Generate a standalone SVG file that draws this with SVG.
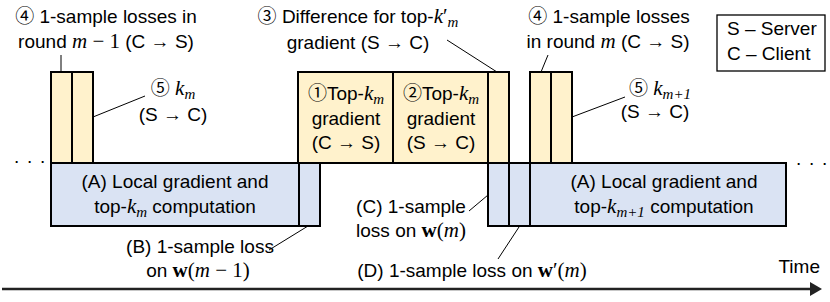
<svg xmlns="http://www.w3.org/2000/svg" width="830" height="302" viewBox="0 0 830 302">
<defs>
<style>
.t{font-family:"Liberation Sans","Noto Sans CJK JP",sans-serif;font-size:19px;fill:#000}
.c{text-anchor:middle}
.n{font-family:"Noto Sans CJK JP","DejaVu Sans",sans-serif;font-size:19px}
.m{font-family:"Liberation Serif",serif;font-style:italic;font-size:21px}
.r{font-family:"Liberation Serif",serif;font-style:normal;font-size:21px}
.s{font-size:15px}
.bw{font-family:"Liberation Serif",serif;font-weight:bold;font-style:normal;font-size:21px}
.or{fill:#FFF2CC;stroke:#000;stroke-width:2}
.bl{fill:#DAE3F3;stroke:#000;stroke-width:2}
.ld{stroke:#000;stroke-width:1;fill:none}
</style>
<marker id="ah" markerWidth="12" markerHeight="14" refX="0" refY="7" orient="auto" markerUnits="userSpaceOnUse">
<path d="M0,0 L12,7 L0,14 Z" fill="#222"/>
</marker>
</defs>
<rect width="830" height="302" fill="#fff"/>

<!-- nodes -->
<g id="loss-left">
<rect class="or" x="51" y="72" width="21" height="91"/>
<rect class="or" x="72" y="72" width="21" height="91"/>
</g>
<g id="compute-left">
<rect class="bl" x="51" y="163" width="248" height="63"/>
<text class="t c" x="175" y="188">(A) Local gradient and</text>
<text class="t c" x="175" y="213">top-<tspan class="m">k</tspan><tspan class="m s" dy="4">m</tspan><tspan dy="-4"> computation</tspan></text>
</g>
<g id="loss-B">
<rect class="bl" x="299" y="163" width="21" height="63"/>
</g>
<g id="topk-up">
<rect class="or" x="298" y="72" width="95" height="91"/>
<text class="t c" x="346" y="100"><tspan class="n">①</tspan>Top-<tspan class="m">k</tspan><tspan class="m s" dy="4">m</tspan></text>
<text class="t c" x="346" y="124.5">gradient</text>
<text class="t c" x="346" y="149">(C → S)</text>
</g>
<g id="topk-down">
<rect class="or" x="393" y="72" width="95" height="91"/>
<text class="t c" x="441" y="100"><tspan class="n">②</tspan>Top-<tspan class="m">k</tspan><tspan class="m s" dy="4">m</tspan></text>
<text class="t c" x="441" y="124.5">gradient</text>
<text class="t c" x="441" y="149">(S → C)</text>
</g>
<g id="diff">
<rect class="or" x="488" y="72" width="21" height="91"/>
</g>
<g id="loss-C">
<rect class="bl" x="488" y="163" width="21" height="63"/>
</g>
<g id="loss-D">
<rect class="bl" x="509" y="163" width="21" height="63"/>
</g>
<g id="compute-right">
<rect class="bl" x="530" y="163" width="256" height="63"/>
<text class="t c" x="664" y="188">(A) Local gradient and</text>
<text class="t c" x="664" y="213">top-<tspan class="m">k</tspan><tspan class="m s" dy="4">m+1</tspan><tspan dy="-4"> computation</tspan></text>
</g>
<g id="loss-right">
<rect class="or" x="530" y="72" width="21" height="91"/>
<rect class="or" x="551" y="72" width="21" height="91"/>
</g>
<g id="legend">
<rect x="717" y="15" width="108" height="56" fill="#fff" stroke="#000" stroke-width="1.3"/>
<text class="t" x="727" y="35">S – Server</text>
<text class="t" x="727" y="60">C – Client</text>
</g>

<!-- labels -->
<g id="labels">
<text class="t c" x="106" y="23"><tspan class="n">④</tspan> 1-sample losses in</text>
<text class="t c" x="106" y="48">round <tspan class="m">m</tspan><tspan class="r"> − 1</tspan> (C → S)</text>
<text class="t c" x="173" y="95"><tspan class="n">⑤</tspan> <tspan class="m">k</tspan><tspan class="m s" dy="4">m</tspan></text>
<text class="t c" x="173" y="121">(S → C)</text>
<text class="t c" x="358" y="23"><tspan class="n">③</tspan> Difference for top-<tspan class="m">k</tspan><tspan class="r">′</tspan><tspan class="m s" dy="4">m</tspan></text>
<text class="t c" x="358" y="49">gradient (S → C)</text>
<text class="t c" x="609" y="23"><tspan class="n">④</tspan> 1-sample losses</text>
<text class="t c" x="608" y="47.5">in round <tspan class="m">m</tspan> (C → S)</text>
<text class="t c" x="660" y="95"><tspan class="n">⑤</tspan> <tspan class="m">k</tspan><tspan class="m s" dy="4">m+1</tspan></text>
<text class="t c" x="655" y="118">(S → C)</text>
<text class="t c" x="200" y="253">(B) 1-sample loss</text>
<text class="t c" x="198" y="277">on <tspan class="bw">w</tspan><tspan class="r">(</tspan><tspan class="m">m</tspan><tspan class="r"> − 1)</tspan></text>
<text class="t c" x="411" y="212.5">(C) 1-sample</text>
<text class="t c" x="411" y="237">loss on <tspan class="bw">w</tspan><tspan class="r">(</tspan><tspan class="m">m</tspan><tspan class="r">)</tspan></text>
<text class="t c" x="472" y="277">(D) 1-sample loss on <tspan class="bw">w</tspan><tspan class="r">′(</tspan><tspan class="m">m</tspan><tspan class="r">)</tspan></text>
<text class="t" x="820" y="273" text-anchor="end">Time</text>
<text class="t" x="14" y="163" letter-spacing="1.2">. . .</text>
<text class="t" x="796" y="165" letter-spacing="1.2">. . .</text>
</g>

<!-- connectors -->
<g id="connectors">
<line class="ld" x1="61" y1="55" x2="61" y2="72"/>
<line class="ld" x1="93" y1="117" x2="145" y2="96"/>
<line class="ld" x1="447" y1="40" x2="497" y2="72"/>
<line class="ld" x1="548" y1="55" x2="541" y2="72"/>
<line class="ld" x1="572" y1="117" x2="625" y2="97"/>
<line class="ld" x1="269" y1="250" x2="308" y2="226"/>
<line class="ld" x1="469" y1="211" x2="488" y2="195"/>
<line class="ld" x1="498" y1="259" x2="519" y2="227"/>
<line x1="2" y1="289" x2="810" y2="289" stroke="#222" stroke-width="2.5" marker-end="url(#ah)"/>
</g>
</svg>
